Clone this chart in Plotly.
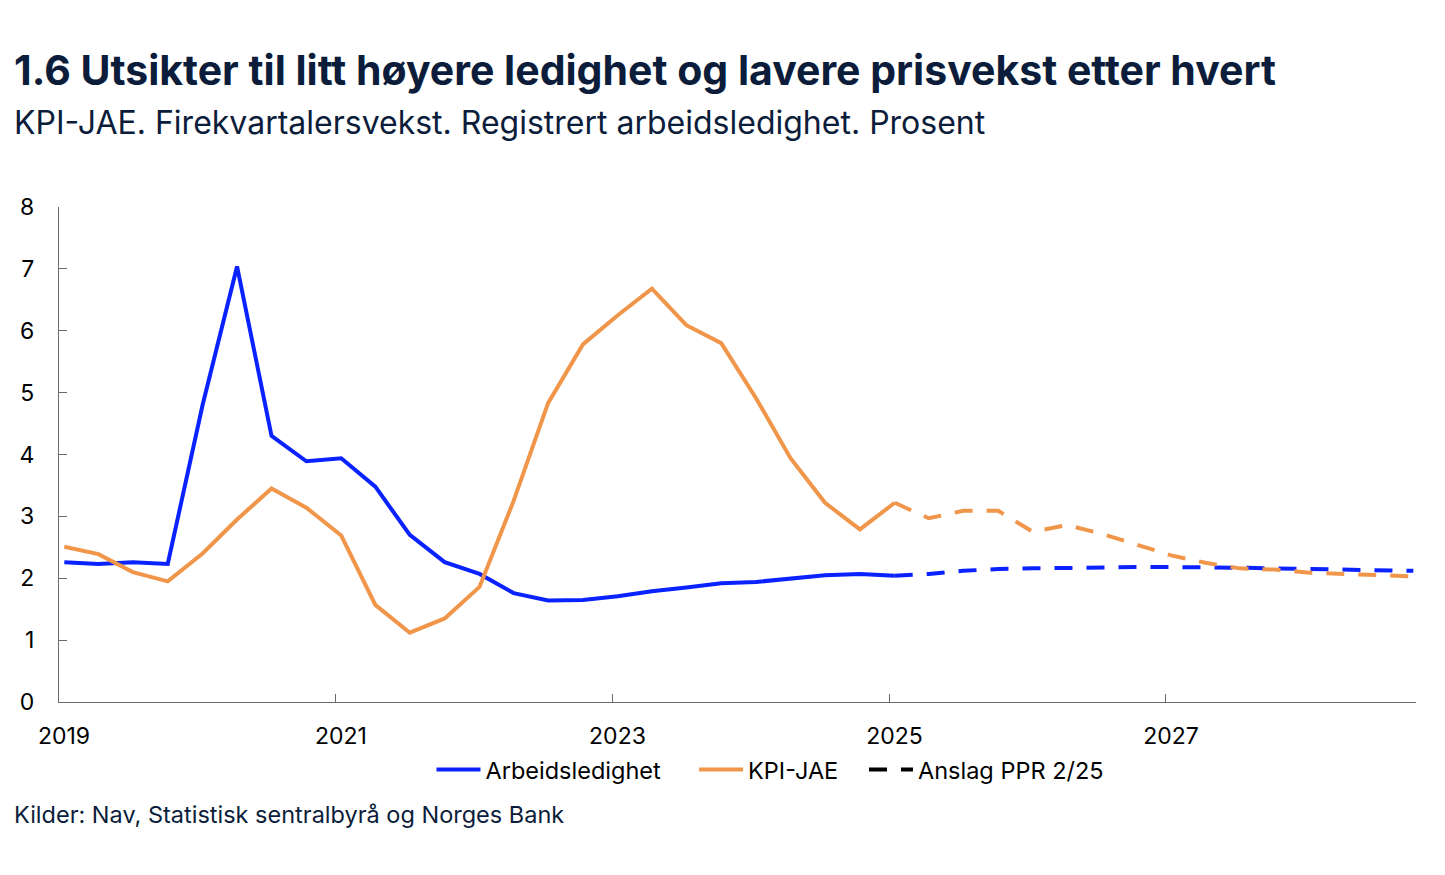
import pandas as pd
import plotly.graph_objects as go

# ---- data ----
quarters_hist = ["2019Q1","2019Q2","2019Q3","2019Q4","2020Q1","2020Q2","2020Q3","2020Q4",
                 "2021Q1","2021Q2","2021Q3","2021Q4","2022Q1","2022Q2","2022Q3","2022Q4",
                 "2023Q1","2023Q2","2023Q3","2023Q4","2024Q1","2024Q2","2024Q3","2024Q4",
                 "2025Q1"]
unemp_hist = [2.26, 2.23, 2.26, 2.23, 4.80, 7.04, 4.30, 3.89,
              3.94, 3.48, 2.70, 2.26, 2.07, 1.76, 1.64, 1.65,
              1.71, 1.79, 1.85, 1.92, 1.94, 2.00, 2.05, 2.07,
              2.04]
cpi_hist = [2.51, 2.39, 2.10, 1.95, 2.40, 2.95, 3.45, 3.14,
            2.69, 1.57, 1.12, 1.35, 1.86, 3.25, 4.83, 5.78,
            6.25, 6.68, 6.09, 5.80, 4.91, 3.94, 3.22, 2.79,
            3.22]

quarters_fc = ["2025Q1","2025Q2","2025Q3","2025Q4","2026Q1","2026Q2","2026Q3","2026Q4",
               "2027Q1","2027Q2","2027Q3","2027Q4","2028Q1","2028Q2","2028Q3","2028Q4"]
unemp_fc = [2.04, 2.07, 2.12, 2.15, 2.16, 2.17, 2.18, 2.18,
            2.18, 2.18, 2.17, 2.16, 2.15, 2.14, 2.13, 2.12]
cpi_fc = [3.22, 2.97, 3.09, 3.09, 2.75, 2.86, 2.72, 2.54,
          2.37, 2.25, 2.16, 2.14, 2.09, 2.07, 2.05, 2.03]

y_ticks = [0, 1, 2, 3, 4, 5, 6, 7, 8]

title_text = "1.6 Utsikter til litt høyere ledighet og lavere prisvekst etter hvert"
subtitle_text = "KPI-JAE. Firekvartalersvekst. Registrert arbeidsledighet. Prosent"
source_text = "Kilder: Nav, Statistisk sentralbyrå og Norges Bank"


def q_to_date(labels):
    return [pd.Period(q, freq="Q").start_time + pd.Timedelta(days=14) for q in labels]


x_hist = q_to_date(quarters_hist)
x_fc = q_to_date(quarters_fc)

BLUE = "#0a22ff"
ORANGE = "#f0964a"
NAVY = "#0b1d3a"
LW = 4
DASH = "18px,14px"
FONT = "Inter"

fig = go.Figure()
fig.add_trace(go.Scatter(x=x_hist, y=unemp_hist, mode="lines", name="Arbeidsledighet",
                         legend="legend", line=dict(color=BLUE, width=LW)))
fig.add_trace(go.Scatter(x=x_hist, y=cpi_hist, mode="lines", name="KPI-JAE",
                         legend="legend2", line=dict(color=ORANGE, width=LW)))
fig.add_trace(go.Scatter(x=x_fc, y=unemp_fc, mode="lines", showlegend=False,
                         line=dict(color=BLUE, width=LW, dash=DASH)))
fig.add_trace(go.Scatter(x=x_fc, y=cpi_fc, mode="lines", showlegend=False,
                         line=dict(color=ORANGE, width=LW, dash=DASH)))
fig.add_trace(go.Scatter(x=[None], y=[None], mode="lines", name="Anslag PPR 2/25",
                         legend="legend3", line=dict(color="black", width=LW, dash=DASH)))

leg_common = dict(orientation="h", xanchor="left", y=-0.137, yanchor="middle",
                  font=dict(family=FONT, size=23.5, color="black"),
                  itemwidth=44, bgcolor="rgba(0,0,0,0)")

fig.update_layout(
    width=1437, height=867,
    margin=dict(l=51, r=29, t=199, b=173),
    paper_bgcolor="white", plot_bgcolor="white",
    font=dict(family=FONT, size=23, color="black"),
    showlegend=True,
    legend=dict(x=0.2745, **leg_common),
    legend2=dict(x=0.468, **leg_common),
    legend3=dict(x=0.5932, **leg_common),
    xaxis=dict(type="date", range=["2019-01-01", "2028-10-22"],
               tick0="2019-01-01", dtick="M24", tickformat="%Y",
               showgrid=False, zeroline=False,
               showline=True, linecolor="#6b6b6b", linewidth=1.2,
               ticks="inside", ticklen=8, tickcolor="#6b6b6b",
               tickfont=dict(size=23, color="black"), ticklabelshift=5,
               ticklabelstandoff=13),
    yaxis=dict(range=[0, 8], tickvals=y_ticks, showgrid=False, zeroline=False,
               showline=True, linecolor="#6b6b6b", linewidth=1.2,
               ticks="inside", ticklen=8, tickcolor="#6b6b6b",
               tickfont=dict(size=23, color="black"), ticklabelstandoff=19),
    annotations=[
        dict(text="<b>" + title_text + "</b>", xref="paper", yref="paper",
             x=-0.0347, y=1.277, xanchor="left", yanchor="middle", showarrow=False,
             font=dict(family=FONT, size=41, color=NAVY)),
        dict(text=subtitle_text, xref="paper", yref="paper",
             x=-0.0347, y=1.170, xanchor="left", yanchor="middle", showarrow=False,
             font=dict(family=FONT, size=32, color=NAVY)),
        dict(text=source_text, xref="paper", yref="paper",
             x=-0.0347, y=-0.228, xanchor="left", yanchor="middle", showarrow=False,
             font=dict(family=FONT, size=23.5, color=NAVY)),
    ],
)

fig.write_html("out.html")
